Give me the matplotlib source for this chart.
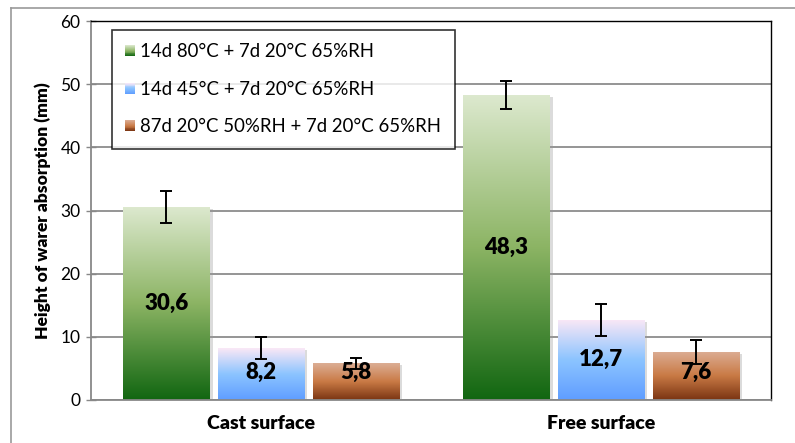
import numpy as np
import matplotlib
matplotlib.use("Agg")
import matplotlib.pyplot as plt
from matplotlib.patches import Rectangle
from matplotlib.lines import Line2D
from matplotlib.legend_handler import HandlerBase
from matplotlib.colors import LinearSegmentedColormap
import matplotlib.patheffects as pe

plt.rcParams['font.family'] = ['Lato', 'DejaVu Sans']

categories = ["Cast surface", "Free surface"]
series = ["14d 80°C + 7d 20°C 65%RH",
          "14d 45°C + 7d 20°C 65%RH",
          "87d 20°C 50%RH + 7d 20°C 65%RH"]
values = [[30.6, 48.3], [8.2, 12.7], [5.8, 7.6]]
errors = [[2.5, 2.2], [1.7, 2.5], [0.9, 1.9]]
labels = [["30,6", "48,3"], ["8,2", "12,7"], ["5,8", "7,6"]]
yticks = [0, 10, 20, 30, 40, 50, 60]

# gradient colours (bottom -> middle -> top)
grads = [
    ["#116611", "#8cb464", "#dde9cf"],
    ["#5f9dff", "#8cc4ff", "#fbe8f6"],
    ["#7a3412", "#c97a45", "#dcae95"],
]
cmaps = [LinearSegmentedColormap.from_list(f"g{i}", g) for i, g in enumerate(grads)]

fig = plt.figure(figsize=(7.95, 4.43), dpi=100)
ax = fig.add_axes([91/795, 1-400/443, 680/795, 379/443])

x = np.arange(len(categories))
width = 0.253
step = 0.279
ax.set_xlim(-0.5, 1.5)
ax.set_ylim(0, 60)

grad_img = np.linspace(0, 1, 256).reshape(-1, 1)
for s in range(3):
    bars = ax.bar(x + (s - 1) * step, values[s], width, color='white', zorder=2,
                  path_effects=[pe.SimplePatchShadow(offset=(2.5, -1.5), shadow_rgbFace='#999999', alpha=0.35),
                                pe.Normal()])
    for b in bars:
        x0, w, h = b.get_x(), b.get_width(), b.get_height()
        im = ax.imshow(grad_img, cmap=cmaps[s], origin='lower', aspect='auto',
                       extent=(x0, x0 + w, 0, h), zorder=2.5, interpolation='bicubic')
        im.set_clip_path(b)
    ax.errorbar(x + (s - 1) * step, values[s], yerr=errors[s], fmt='none',
                ecolor='black', elinewidth=1.4, capsize=4.5, capthick=1.4, zorder=4)
    for i in range(len(categories)):
        ax.text(x[i] + (s - 1) * step, max(values[s][i] / 2, 4.3), labels[s][i],
                ha='center', va='center', fontsize=16, fontweight='heavy', color='black', zorder=5)

ax.set_xlim(-0.5, 1.5)
ax.set_ylim(0, 60)
ax.set_yticks(yticks)
ax.set_yticklabels([str(t) for t in yticks], fontsize=12.5)
ax.set_xticks(x)
ax.set_xticklabels(categories, fontsize=14, fontweight='heavy')
ax.tick_params(axis='x', length=0, pad=11)
ax.tick_params(axis='y', direction='inout', length=7, width=1, color='#888888', pad=4)
ax.yaxis.grid(True, color='#8c8c8c', linewidth=1.3, zorder=0)
ax.set_axisbelow(True)
for sp in ['left', 'bottom']:
    ax.spines[sp].set_color('#888888')
    ax.spines[sp].set_linewidth(1.3)
for sp in ['top', 'right']:
    ax.spines[sp].set_color('black')
    ax.spines[sp].set_linewidth(1.0)
ax.set_ylabel("Height of warer absorption (mm)", fontsize=12.5, fontweight='heavy', labelpad=7)


class GradHandler(HandlerBase):
    def __init__(self, cmap):
        super().__init__()
        self.cmap = cmap

    def create_artists(self, legend, orig_handle, xdescent, ydescent, width, height, fontsize, trans):
        n = 12
        arts = []
        for k in range(n):
            r = Rectangle((-xdescent, -ydescent + height * k / n), width, height / n + 0.2,
                          facecolor=self.cmap((k + 0.5) / n), edgecolor='none', transform=trans)
            arts.append(r)
        return arts


handles = [Rectangle((0, 0), 1, 1) for _ in range(3)]
leg = fig.legend(handles, series, loc='upper left', bbox_to_anchor=(112/795, 1-30/443),
                 fontsize=13.4, frameon=True, fancybox=False, edgecolor='black',
                 handlelength=0.5, handleheight=0.5, handletextpad=0.3,
                 labelspacing=1.1, borderpad=0.72, borderaxespad=0,
                 handler_map={h: GradHandler(cmaps[i]) for i, h in enumerate(handles)})
leg.get_frame().set_linewidth(1.2)

# outer frame lines
fig.add_artist(Line2D([11/795, 11/795], [0, 1-8/443], transform=fig.transFigure, color='#999999', lw=1.2))
fig.add_artist(Line2D([11/795, 1], [1-8/443, 1-8/443], transform=fig.transFigure, color='#999999', lw=1.2))

fig.savefig("out.png", dpi=100)
